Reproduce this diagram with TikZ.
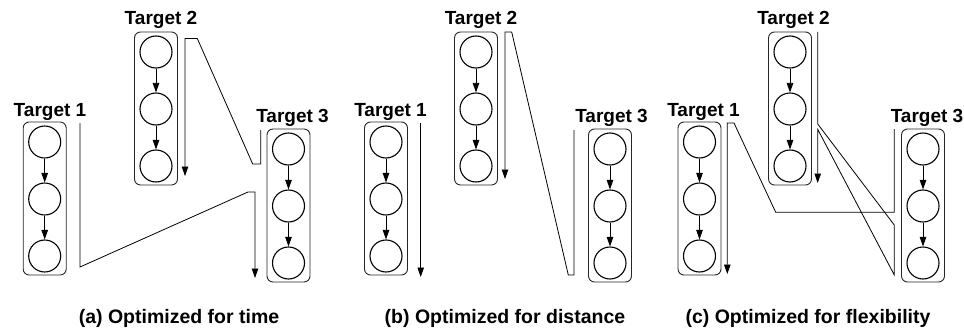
\documentclass[tikz,border=0pt]{standalone}
\usepackage{fontspec}
\setmainfont{Liberation Sans}
\usetikzlibrary{arrows.meta}

% one column of three states inside a rounded frame
% #1 name, #2 centre x, #3 top y
\newcommand{\tgtcol}[3]{%
  \node[tbox] (#1) at (#2, #3+76.5) {};
  \node[tcirc] (#1-1) at (#2, #3+20) {};
  \node[tcirc] (#1-2) at (#2, #3+77) {};
  \node[tcirc] (#1-3) at (#2, #3+134) {};
  \draw[arr] (#1-1) -- (#1-2);
  \draw[arr] (#1-2) -- (#1-3);
}

\begin{document}
\begin{tikzpicture}[x=1pt, y=-1pt,
  tbox/.style={draw=black!85, rounded corners=6pt, minimum width=43pt,
    minimum height=153pt, inner sep=0pt, line width=0.9pt},
  tcirc/.style={draw, circle, minimum size=32pt, inner sep=0pt, line width=1.1pt},
  arr/.style={-{Triangle[length=9.5pt,width=6.5pt]}, line width=0.8pt},
  route/.style={line width=0.8pt},
  lbl/.style={font=\fontsize{19}{21}\selectfont\bfseries, anchor=base, inner sep=0pt},
  captxt/.style={font=\fontsize{19.5}{22}\selectfont\bfseries, anchor=base, inner sep=0pt}]

\useasboundingbox (0,0) rectangle (964,329);

% ---------- (a) optimized for time ----------
\tgtcol{a1}{44.7}{122}
\tgtcol{a2}{156}{32}
\tgtcol{a3}{288.5}{129}
\node[lbl] (a1-l) at (50,116.7) {Target 1};
\node[lbl] (a2-l) at (161,24.5) {Target 2};
\node[lbl] (a3-l) at (292.5,122.5) {Target 3};

\coordinate (a-p1) at (80,123);
\coordinate (a-p2) at (80,267);
\coordinate (a-p3) at (248,192);
\coordinate (a-p4) at (255,192);
\coordinate (a-p5) at (255,278);
\draw[route, arr] (a-p1) -- (a-p2) -- (a-p3) -- (a-p4) -- (a-p5);

\coordinate (a-q1) at (260.7,130);
\coordinate (a-q2) at (260.7,164);
\coordinate (a-q3) at (252.7,164);
\coordinate (a-q4) at (197.3,38.5);
\coordinate (a-q5) at (185,38.5);
\coordinate (a-q6) at (185,176);
\draw[route, arr] (a-q1) -- (a-q2) -- (a-q3) -- (a-q4) -- (a-q5) -- (a-q6);

\node[captxt] (a-cap) at (179,323) {(a) Optimized for time};

% ---------- (b) optimized for distance ----------
\tgtcol{b1}{386}{122}
\tgtcol{b2}{476}{32}
\tgtcol{b3}{610}{129}
\node[lbl] (b1-l) at (390.5,116.7) {Target 1};
\node[lbl] (b2-l) at (481,24.5) {Target 2};
\node[lbl] (b3-l) at (611.5,122.5) {Target 3};

\coordinate (b-p1) at (420.7,123);
\coordinate (b-p2) at (420.7,277);
\draw[route, arr] (b-p1) -- (b-p2);

\coordinate (b-q1) at (574,130);
\coordinate (b-q2) at (574,275);
\coordinate (b-q3) at (568.3,275);
\coordinate (b-q4) at (511.7,32);
\coordinate (b-q5) at (505,32);
\coordinate (b-q6) at (505,179);
\draw[route, arr] (b-q1) -- (b-q2) -- (b-q3) -- (b-q4) -- (b-q5) -- (b-q6);

\node[captxt] (b-cap) at (505,323) {(b) Optimized for distance};

% ---------- (c) optimized for flexibility ----------
\tgtcol{c1}{699.5}{122}
\tgtcol{c2}{790}{32}
\tgtcol{c3}{923}{129}
\node[lbl] (c1-l) at (703.5,116.7) {Target 1};
\node[lbl] (c2-l) at (793.5,24.5) {Target 2};
\node[lbl] (c3-l) at (927,122.5) {Target 3};

\coordinate (c-p1) at (894.3,129);
\coordinate (c-p2) at (894.3,212.3);
\coordinate (c-p3) at (775.7,212.3);
\coordinate (c-p4) at (734,123);
\coordinate (c-p5) at (727.3,123);
\coordinate (c-p6) at (727.3,274);
\draw[route, arr] (c-p1) -- (c-p2) -- (c-p3) -- (c-p4) -- (c-p5) -- (c-p6);

\coordinate (c-q1) at (817.7,32);
\coordinate (c-q2) at (817.7,124);
\coordinate (c-q3) at (894.3,225);
\coordinate (c-q4) at (894.3,275);
\coordinate (c-q5) at (817.7,129.3);
\coordinate (c-q6) at (817.7,183);
\draw[route, arr] (c-q1) -- (c-q2) -- (c-q3) -- (c-q4) -- (c-q5) -- (c-q6);

\node[captxt] (c-cap) at (808,323) {(c) Optimized for flexibility};

\end{tikzpicture}
\end{document}
